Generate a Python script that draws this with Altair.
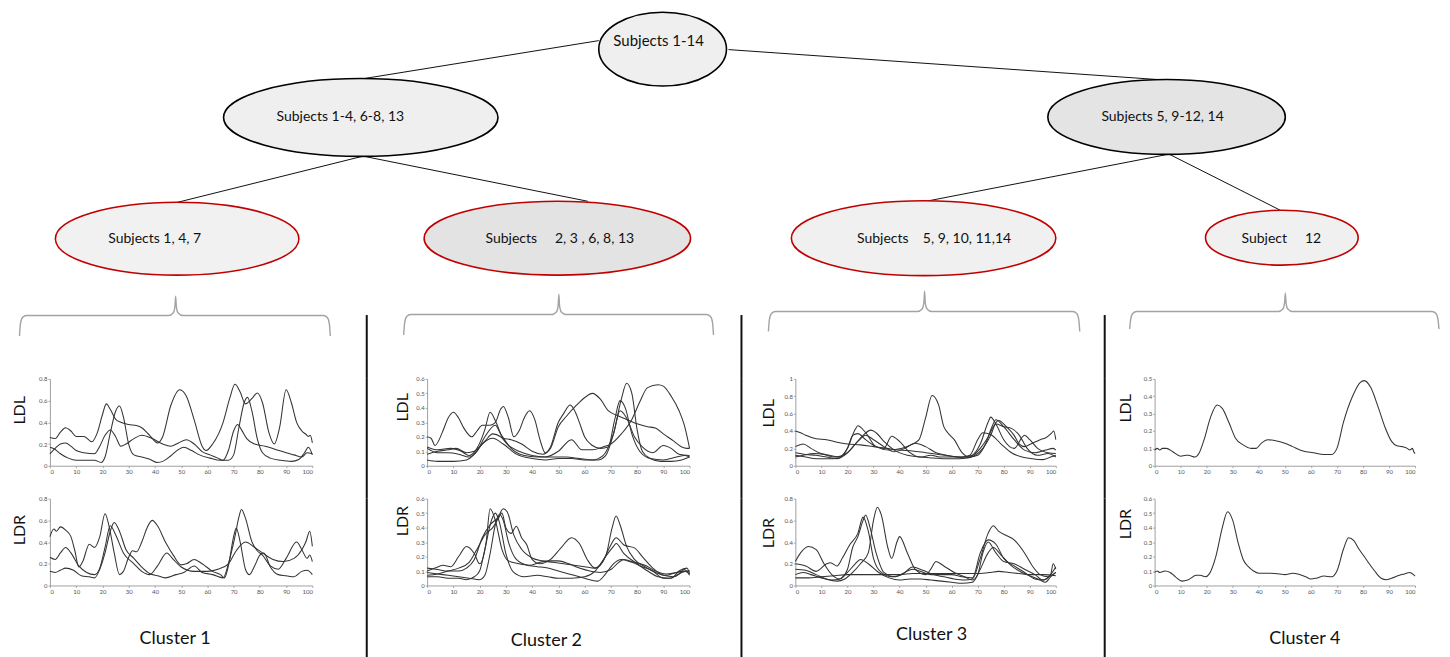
import altair as alt
import pandas as pd

FONT = "Lato"

# ---------------- tree: node texts ----------------
node_labels = [
    "Subjects 1-14",
    "Subjects 1-4, 6-8, 13",
    "Subjects 5, 9-12, 14",
    "Subjects 1, 4, 7",
    "Subjects\u00a0\u00a0\u00a0\u00a0 2, 3 , 6, 8, 13",
    "Subjects\u00a0\u00a0\u00a0 5, 9, 10, 11,14",
    "Subject\u00a0\u00a0\u00a0\u00a0 12",
]
cluster_names = ["Cluster 1", "Cluster 2", "Cluster 3", "Cluster 4"]

# ---------------- curves (x = % of cycle, y = value) ----------------
c1_ldl_a = [(0,.26),(2,.25),(4,.31),(6,.35),(8,.32),(10,.27),(13,.27),(16,.22),(18,.30),(20,.47),(21.5,.57),(23,.52),(25,.43),(27,.40),(30,.38),(33,.37),(35,.35),(38,.28),(41,.21),(43,.27),(46,.55),(49.5,.70),(52,.64),(55,.42),(58,.18),(59.5,.14),(62,.20),(66,.40),(68.5,.62),(70.5,.75),(72.5,.68),(74.5,.57),(77,.62),(79,.67),(81,.58),(83.5,.30),(85.5,.20),(87.5,.35),(90,.70),(92,.58),(94,.40),(96,.32),(97.5,.29),(98.5,.27),(99.2,.28),(100,.21)]
c1_ldl_b = [(0,.11),(2,.16),(4,.20),(6,.21),(8,.18),(10,.14),(13,.12),(17,.11),(19,.18),(21,.28),(23,.33),(25,.27),(27,.18),(29,.20),(32,.25),(35,.28),(39,.25),(43,.20),(46,.18),(49,.21),(52,.24),(55,.20),(58,.13),(61,.10),(64,.07),(66,.05),(68,.14),(70,.32),(71.5,.38),(73,.33),(75,.25),(78,.20),(82,.18),(86,.15),(90,.12),(93,.10),(96,.08),(98,.12),(100,.11)]
c1_ldl_c = [(0,.17),(2,.15),(4,.11),(7,.07),(10,.05),(14,.05),(17,.05),(19.5,.03),(21,.08),(23,.30),(25,.50),(26.5,.55),(28,.45),(30,.20),(32,.10),(35,.08),(38,.06),(41,.03),(43,.04),(46,.09),(49,.15),(51,.17),(54,.14),(57,.10),(61,.07),(65,.05),(68,.05),(70,.10),(72,.35),(74,.58),(75.3,.63),(77,.50),(79,.25),(81,.12),(84,.07),(88,.05),(92,.04),(95,.06),(97,.12),(98.5,.17),(100,.10)]

c1_ldr_a = [(0,.45),(1.5,.52),(2.5,.50),(4,.54),(6,.51),(8,.45),(9.5,.32),(11,.17),(12.5,.22),(15,.38),(17,.35),(19,.45),(21,.66),(22.5,.55),(24.5,.30),(26.5,.10),(28,.13),(30,.26),(31.5,.32),(33,.31),(35,.40),(37,.53),(39,.60),(41,.55),(44,.40),(47,.28),(50,.19),(52,.20),(55,.24),(58,.20),(62,.13),(65,.10),(66.5,.07),(68,.18),(70,.45),(71,.53),(72.5,.40),(74.5,.15),(76,.10),(78,.18),(80,.28),(81.5,.30),(84,.17),(87,.10),(90,.09),(93,.08),(96,.13),(98,.14),(100,.10)]
c1_ldr_b = [(0,.26),(2,.24),(4,.30),(6,.35),(8,.30),(11,.18),(14,.12),(17,.10),(19,.16),(21,.35),(23,.55),(25,.47),(28,.30),(32,.20),(35,.13),(38,.10),(41,.18),(44.5,.30),(47,.24),(50,.17),(55,.13),(60,.13),(64,.15),(68,.20),(71,.32),(74.5,.40),(78,.35),(81,.30),(85,.24),(89,.22),(93,.25),(96,.33),(97.5,.40),(99,.50),(100,.36)]
c1_ldr_c = [(0,.13),(2,.12),(4,.14),(6,.16),(9,.14),(12,.09),(15,.08),(17,.07),(19,.15),(21,.30),(23,.50),(24.5,.58),(26.5,.50),(29,.33),(32,.25),(35,.17),(38,.11),(41,.09),(44,.07),(48,.10),(51,.12),(55,.18),(58,.12),(62,.10),(66,.07),(68,.20),(70.5,.45),(72,.63),(73,.70),(74.5,.62),(77,.40),(79,.32),(81,.28),(84,.18),(87,.15),(90,.25),(94,.40),(96,.33),(98,.25),(99,.28),(100,.22)]

c2_ldl_a = [(0,.20),(1.5,.19),(3,.14),(6,.24),(8,.33),(10,.37),(12,.33),(14,.26),(17,.20),(19,.24),(21,.28),(24,.28),(26,.30),(28,.39),(29,.41),(31,.33),(33,.20),(35,.24),(37,.33),(39,.38),(41,.32),(43,.18),(45,.09),(47,.13),(50,.30),(52,.36),(54.5,.42),(56.5,.37),(58,.30),(60,.20),(63,.14),(66,.12),(69,.13),(71.5,.32),(73.5,.45),(75.5,.40),(78,.22),(81,.10),(85,.05),(90,.04),(95,.06),(98,.07),(100,.06)]
c2_ldl_b = [(0,.13),(4,.11),(9,.12),(13,.10),(16,.07),(19,.12),(22,.25),(24,.37),(26.5,.29),(29,.19),(32,.18),(36,.15),(40,.10),(44,.08),(47,.12),(50,.27),(53,.34),(57,.42),(60,.47),(63,.50),(66,.46),(69,.38),(72,.35),(76,.32),(80,.29),(84,.27),(87,.26),(90,.22),(94,.17),(97,.13),(99,.12),(100,.12)]
c2_ldl_c = [(0,.08),(4,.10),(8,.11),(11,.12),(15,.09),(18,.10),(22,.17),(25,.22),(28,.20),(31,.14),(35,.10),(40,.07),(45,.06),(50,.10),(55,.18),(59,.11),(63,.11),(67,.13),(70,.15),(74,.22),(78,.32),(81,.44),(84,.54),(88,.56),(90,.55),(93,.48),(96,.38),(98,.28),(100,.12)]
c2_ldl_d = [(0,.04),(4,.03),(10,.03),(15,.04),(18,.08),(21,.15),(25,.19),(29,.15),(34,.08),(40,.05),(45,.04),(50,.05),(55,.05),(60,.04),(65,.04),(68,.07),(71,.22),(74,.46),(76,.57),(78,.50),(80,.25),(82,.10),(85,.05),(89,.03),(93,.03),(97,.04),(100,.06)]
c2_ldl_e = [(0,.12),(4,.09),(8,.09),(12,.08),(16,.06),(19,.10),(22,.20),(26,.28),(28,.22),(32,.12),(37,.07),(42,.06),(48,.06),(53,.06),(58,.05),(63,.04),(67,.07),(71,.22),(73.5,.38),(76,.33),(79,.20),(82,.13),(86,.09),(90,.14),(93,.12),(96,.08),(100,.07)]

c2_ldr_a = [(0,.10),(3,.12),(6,.14),(9,.13),(12,.20),(15,.27),(18,.22),(20,.15),(22.5,.30),(24,.53),(26,.45),(28.5,.25),(31,.17),(35,.15),(39,.14),(43,.16),(47,.17),(50,.17),(54,.15),(58,.12),(62,.10),(66,.09),(70,.11),(73,.16),(75,.18),(79,.16),(83,.14),(87,.10),(91,.08),(95,.09),(98,.10),(100,.08)]
c2_ldr_b = [(0,.12),(4,.11),(8,.10),(12,.10),(15,.12),(18,.18),(21,.33),(24,.42),(27,.47),(29,.53),(30.5,.51),(33,.35),(36,.25),(40,.19),(44,.17),(48,.16),(52,.15),(56,.14),(60,.13),(64,.12),(68,.20),(70.5,.40),(72,.48),(73.5,.42),(76,.27),(79,.18),(83,.13),(87,.09),(91,.07),(95,.09),(100,.10)]
c2_ldr_c = [(0,.07),(4,.08),(8,.10),(12,.12),(16,.16),(19,.25),(22,.35),(25,.40),(27,.46),(28.5,.50),(30,.40),(32,.36),(34,.41),(36,.33),(38,.28),(40,.18),(43,.15),(47,.18),(51,.26),(55,.33),(58,.29),(61,.18),(64,.12),(67,.17),(70,.28),(72,.33),(75,.28),(79,.26),(82,.20),(86,.12),(90,.07),(94,.06),(97,.09),(100,.10)]
c2_ldr_d = [(0,.06),(4,.06),(8,.05),(12,.05),(15,.04),(18,.06),(20,.10),(22,.25),(24.5,.45),(26,.50),(27.5,.44),(30,.22),(33,.09),(37,.06),(42,.07),(46,.06),(50,.05),(55,.05),(60,.06),(64,.10),(68,.20),(71,.27),(72,.29),(75,.22),(80,.15),(84,.10),(88,.06),(92,.05),(96,.08),(98,.11),(100,.07)]
c2_ldr_e = [(0,.09),(4,.08),(8,.07),(12,.06),(16,.05),(20,.04),(22,.07),(24,.22),(26,.42),(27.5,.49),(29,.45),(31,.30),(34,.18),(38,.14),(42,.13),(46,.12),(50,.10),(54,.08),(58,.06),(62,.04),(65,.03),(68,.08),(71,.15),(74,.18),(78,.16),(82,.13),(86,.10),(90,.05),(93,.05),(96,.10),(99,.12),(100,.08)]

c3_ldl_a = [(0,.40),(2,.38),(4,.35),(8,.31),(12,.30),(16,.27),(20,.25),(25,.24),(30,.22),(35,.20),(40,.18),(45,.17),(50,.15),(55,.13),(60,.11),(64,.10),(68,.12),(71,.20),(74,.33),(76,.45),(78,.52),(81,.45),(84,.35),(86,.25),(88,.22),(91,.26),(94,.30),(96,.32),(98.5,.38),(99.2,.40),(100,.30)]
c3_ldl_b = [(0,.22),(3,.25),(6,.20),(9,.15),(13,.12),(17,.10),(20,.20),(22,.35),(24,.37),(27,.30),(31,.22),(36,.18),(41,.20),(45,.25),(47.5,.30),(50,.55),(52.5,.81),(55,.70),(57,.45),(58.5,.38),(61,.30),(64,.15),(67,.10),(70,.12),(73,.25),(75.5,.45),(77,.53),(80,.45),(84,.30),(88,.18),(92,.15),(96,.18),(99,.20),(100,.18)]
c3_ldl_c = [(0,.15),(4,.13),(8,.12),(12,.10),(16,.08),(20,.20),(23,.42),(24,.46),(27,.38),(31,.22),(34,.20),(37,.34),(40,.28),(44,.15),(48,.10),(52,.12),(56,.10),(60,.10),(64,.10),(67,.12),(70,.30),(72,.38),(75,.36),(79,.25),(83,.15),(87,.10),(91,.08),(95,.07),(98,.10),(100,.12)]
c3_ldl_d = [(0,.12),(4,.10),(8,.08),(12,.08),(17,.09),(20,.15),(23,.25),(26,.35),(29,.41),(31,.38),(34,.28),(38,.18),(43,.12),(48,.10),(53,.09),(58,.08),(63,.08),(67,.10),(71,.25),(74,.50),(75,.56),(77,.48),(80,.30),(84,.20),(88,.35),(90,.30),(93,.20),(97,.15),(100,.14)]
c3_ldl_e = [(0,.10),(3,.12),(7,.14),(11,.13),(15,.10),(20,.15),(24,.28),(27,.35),(30,.30),(34,.22),(38,.16),(42,.20),(46,.26),(50,.22),(54,.15),(58,.12),(62,.10),(66,.09),(69,.12),(72,.20),(75,.35),(77,.48),(80,.45),(83,.43),(86,.35),(89,.20),(93,.12),(97,.14),(100,.10)]

c3_ldr_a = [(0,.22),(2,.30),(5,.36),(8,.33),(11,.20),(14,.10),(17,.06),(20,.15),(22,.35),(24,.45),(26,.60),(27,.65),(28.5,.55),(31,.30),(34,.12),(38,.08),(42,.12),(45,.15),(48,.13),(52,.10),(56,.10),(60,.10),(64,.08),(68,.07),(71,.30),(74,.42),(77,.38),(80,.25),(84,.18),(88,.12),(92,.06),(95,.05),(98,.10),(99,.20),(100,.15)]
c3_ldr_b = [(0,.20),(4,.18),(8,.13),(12,.20),(13.5,.21),(16,.18),(18,.25),(21,.38),(24,.48),(26,.63),(28,.50),(30,.25),(33,.12),(37,.08),(41,.10),(45,.17),(49,.14),(53,.10),(57,.08),(61,.06),(65,.05),(68,.06),(71,.25),(74,.48),(76,.55),(78,.50),(81,.46),(84,.42),(88,.30),(91,.18),(94,.10),(97,.08),(100,.12)]
c3_ldr_c = [(0,.15),(4,.14),(8,.10),(12,.06),(16,.04),(19,.06),(22,.12),(25,.20),(28,.30),(30,.60),(31.5,.72),(33,.65),(35.5,.35),(37,.25),(39,.40),(40,.45),(43,.30),(46,.15),(50,.10),(52,.15),(54,.22),(57,.18),(61,.12),(65,.08),(68,.05),(70,.10),(72,.30),(74,.40),(77,.30),(80,.22),(84,.20),(88,.15),(92,.10),(95,.05),(98,.10),(100,.17)]
c3_ldr_d = [(0,.10),(3,.12),(6,.10),(10,.07),(14,.05),(17,.06),(20,.12),(23,.20),(25,.24),(28,.20),(32,.12),(36,.07),(40,.05),(44,.06),(48,.06),(52,.05),(56,.04),(60,.03),(64,.02),(68,.03),(71,.15),(74,.30),(76,.35),(79,.28),(83,.18),(87,.12),(91,.08),(94,.05),(96,.03),(98,.08),(100,.12)]
c3_ldr_e = [(0,.07),(5,.07),(10,.08),(15,.09),(20,.10),(25,.10),(30,.10),(35,.10),(40,.10),(45,.11),(50,.11),(55,.11),(60,.11),(65,.11),(70,.11),(75,.12),(78,.13),(82,.12),(86,.11),(90,.10),(95,.10),(100,.09)]

c4_ldl_a = [(0,.09),(1,.10),(2,.09),(3,.10),(4.5,.10),(7,.08),(10,.055),(12,.06),(13,.06),(15.5,.05),(17,.07),(19,.15),(21.5,.28),(24,.35),(26,.33),(28.5,.25),(31,.16),(34,.12),(37,.10),(39,.10),(41,.13),(43.5,.15),(46,.145),(50,.13),(53,.11),(57,.085),(61,.075),(65,.065),(68,.065),(70,.10),(72.5,.25),(76,.40),(79,.48),(80.5,.49),(83,.45),(86,.33),(88.5,.22),(91,.14),(93,.115),(95,.11),(97,.10),(98,.09),(99,.10),(99.5,.08),(100,.07)]
c4_ldr_a = [(0,.09),(1,.10),(2,.09),(4,.10),(6,.09),(8,.06),(10.5,.03),(13,.04),(16,.07),(17.5,.07),(19.5,.06),(21,.08),(23.5,.20),(26,.40),(28,.51),(30,.45),(32,.30),(34,.18),(36,.13),(38,.10),(40,.085),(44,.085),(48,.08),(50,.075),(53,.085),(55,.08),(58,.06),(60,.045),(62,.05),(65,.065),(68,.06),(70,.10),(72.5,.25),(74.5,.33),(76.5,.31),(78.5,.25),(80.5,.20),(82,.16),(84.5,.10),(87,.05),(89,.04),(91,.05),(94,.07),(96,.08),(98,.09),(99,.08),(100,.065)]

ldl_series = [[c1_ldl_a, c1_ldl_b, c1_ldl_c],
              [c2_ldl_a, c2_ldl_b, c2_ldl_c, c2_ldl_d, c2_ldl_e],
              [c3_ldl_a, c3_ldl_b, c3_ldl_c, c3_ldl_d, c3_ldl_e],
              [c4_ldl_a]]
ldr_series = [[c1_ldr_a, c1_ldr_b, c1_ldr_c],
              [c2_ldr_a, c2_ldr_b, c2_ldr_c, c2_ldr_d, c2_ldr_e],
              [c3_ldr_a, c3_ldr_b, c3_ldr_c, c3_ldr_d, c3_ldr_e],
              [c4_ldr_a]]
ldl_max = [0.8, 0.6, 1.0, 0.5]
ldl_step = [0.2, 0.1, 0.2, 0.1]
ldr_max = [0.8, 0.6, 0.8, 0.6]
ldr_step = [0.2, 0.1, 0.2, 0.1]

# ---------------- layout (screen pixel coordinates) ----------------
node_cx = [664, 361.5, 1169, 177.5, 558.5, 925.5, 1284.5]
node_cy = [45.5, 114, 113.5, 235.5, 235, 235, 234.5]
node_rx = [64, 137.5, 119, 122, 133.5, 132.5, 76.5]
node_ry = [37, 39, 37.5, 36.5, 37, 37.5, 27.5]
node_fill = ["#efefef", "#efefef", "#e4e4e4", "#f1f1f1", "#e3e3e3", "#f0f0f0", "#f0f0f0"]
node_stroke = ["#000000", "#000000", "#000000", "#c00000", "#c00000", "#c00000", "#c00000"]
node_font = [15, 14, 14, 14, 14, 14, 14]
text_x = [660, 341, 1165, 155, 561, 936, 1284]
text_y = [37, 114, 114, 236, 236, 236, 236]

edge_x1 = [600, 730, 363, 365, 1170, 1172]
edge_y1 = [37, 46, 153, 153, 151, 151]
edge_x2 = [365, 1160, 178, 589, 928, 1283]
edge_y2 = [75, 76, 199, 198, 198, 207]

br_x0 = [19.5, 404.5, 770, 1132]
br_x1 = [331, 715, 1082, 1442]
br_xc = [176, 560, 926.5, 1288]
br_yl = [312.5, 311.5, 308.5, 308.5]
br_ye = [333, 332, 328.5, 326]
br_yp = [293, 291, 288, 290]

sep_x = [367.5, 743, 1107]
sep_top = 312
TOP_X0, TOP_X1, TOP_Y0, TOP_Y1 = 8, 1442, 8, 376

panel_left = [50, 428, 797, 1157]
panel_w = [263, 263, 261, 261]
panel_h = 87
row_gap = 33
bottom_y = 657
ldl_title_x = [-30, -25, -27, -29]
ldl_title_y = [31, 28, 34, 29]
ldr_title_y = [31, 22, 34, 25]
cl_x = [175, 547, 933, 1307]
cl_y = [636, 638, 632, 636]

# ---------------- top (tree) ----------------
XS = alt.Scale(domain=[TOP_X0, TOP_X1], nice=False, zero=False)
YS = alt.Scale(domain=[TOP_Y0, TOP_Y1], nice=False, zero=False, reverse=True)

nodes_df = pd.DataFrame({
    "cx": node_cx, "cy": node_cy,
    "size": [(2 * r) ** 2 for r in node_rx],
    "path": ["M -1 0 A 1 {a:.4f} 0 1 0 1 0 A 1 {a:.4f} 0 1 0 -1 0 Z".format(a=ry / rx)
             for rx, ry in zip(node_rx, node_ry)],
    "fill": node_fill, "stroke": node_stroke,
})
text_df = pd.DataFrame({"x": text_x, "y": text_y, "label": node_labels, "fs": node_font})
edges_df = pd.DataFrame({"x1": edge_x1, "y1": edge_y1, "x2": edge_x2, "y2": edge_y2})

br_rows = []
for b in range(4):
    x0, x1, xc, yl, ye, yp = br_x0[b], br_x1[b], br_xc[b], br_yl[b], br_ye[b], br_yp[b]
    pts = [(x0, ye), (x0 + 1, yl + 8), (x0 + 3, yl + 2), (x0 + 7, yl),
           (xc - 7, yl), (xc - 2.5, yl - 2.5), (xc - 0.7, yl - 9), (xc, yp),
           (xc + 0.7, yl - 9), (xc + 2.5, yl - 2.5), (xc + 7, yl),
           (x1 - 7, yl), (x1 - 3, yl + 2), (x1 - 1, yl + 8), (x1, ye)]
    for i, (px, py) in enumerate(pts):
        br_rows.append({"b": b, "i": i, "x": px, "y": py})
br_df = pd.DataFrame(br_rows)
sep_df = pd.DataFrame({"x": sep_x, "y1": [sep_top] * 3, "y2": [TOP_Y1] * 3})

edges = alt.Chart(edges_df).mark_rule(color="#111111", strokeWidth=1).encode(
    x=alt.X("x1:Q", scale=XS, axis=None), y=alt.Y("y1:Q", scale=YS, axis=None),
    x2="x2:Q", y2="y2:Q")
ellipses = alt.Chart(nodes_df).mark_point(filled=True, opacity=1, strokeWidth=1.6).encode(
    x=alt.X("cx:Q", scale=XS, axis=None), y=alt.Y("cy:Q", scale=YS, axis=None),
    shape=alt.Shape("path:N", scale=None, legend=None),
    size=alt.Size("size:Q", scale=None, legend=None),
    fill=alt.Fill("fill:N", scale=None, legend=None),
    stroke=alt.Stroke("stroke:N", scale=None, legend=None))
texts = alt.Chart(text_df).mark_text(font=FONT, color="#111111").encode(
    x=alt.X("x:Q", scale=XS, axis=None), y=alt.Y("y:Q", scale=YS, axis=None), text="label:N",
    size=alt.Size("fs:Q", scale=None, legend=None))
brackets = alt.Chart(br_df).mark_line(color="#a3a3a3", strokeWidth=1.4, interpolate="monotone").encode(
    x=alt.X("x:Q", scale=XS, axis=None), y=alt.Y("y:Q", scale=YS, axis=None),
    detail="b:N", order="i:Q")
seps_top = alt.Chart(sep_df).mark_rule(color="#111111", strokeWidth=2).encode(
    x=alt.X("x:Q", scale=XS, axis=None), y=alt.Y("y1:Q", scale=YS, axis=None), y2="y2:Q")

top = alt.layer(edges, ellipses, texts, brackets, seps_top).properties(
    width=TOP_X1 - TOP_X0, height=TOP_Y1 - TOP_Y0)

# ---------------- bottom panels ----------------
def series_df(series_list):
    rows = []
    for k, s in enumerate(series_list):
        for i, (x, y) in enumerate(s):
            rows.append({"s": k, "i": i, "x": x, "y": y})
    return pd.DataFrame(rows)


def panel(series_list, ymax, ystep, name, tx, ty, width, cluster=None, cx=None, cy=None):
    df = series_df(series_list)
    nticks = int(round(ymax / ystep))
    yvals = [round(k * ystep, 2) for k in range(nticks + 1)]
    common = dict(labelFontSize=6, labelColor="#555555", labelFont=FONT, tickSize=2,
                  tickColor="#888888", tickWidth=0.7, domainColor="#888888",
                  domainWidth=0.8, labelPadding=1, grid=False)
    xkw = dict(common, values=list(range(0, 101, 10)))
    if cluster is not None:
        xkw.update(titleX=cx, titleY=cy, titleBaseline="middle", titleAlign="center",
                   titleFontSize=18, titleFontWeight="normal", titleColor="#111111",
                   titleFont=FONT)
        xenc = alt.X("x:Q", scale=alt.Scale(domain=[0, 100], nice=False),
                     axis=alt.Axis(**xkw), title=cluster)
    else:
        xenc = alt.X("x:Q", scale=alt.Scale(domain=[0, 100], nice=False),
                     axis=alt.Axis(**xkw), title=None)
    ykw = dict(common, values=yvals, format=".1~f", titleX=tx, titleY=ty,
               titleAngle=270, titleBaseline="middle", titleAlign="center",
               titleFontSize=16, titleFontWeight="normal", titleColor="#111111",
               titleFont=FONT)
    yenc = alt.Y("y:Q", scale=alt.Scale(domain=[0, ymax], nice=False),
                 axis=alt.Axis(**ykw), title=name)
    return alt.Chart(df).mark_line(color="#333333", strokeWidth=1.05,
                                   interpolate="monotone").encode(
        x=xenc, y=yenc, detail="s:N", order="i:Q").properties(width=width, height=panel_h)


def separator(left, width, height, xpos, visible=True):
    df = pd.DataFrame({"x": [xpos], "y1": [0], "y2": [1]})
    return alt.Chart(df).mark_rule(color="#111111", strokeWidth=2,
                                   opacity=1 if visible else 0).encode(
        x=alt.X("x:Q", scale=alt.Scale(domain=[left, left + width], nice=False, zero=False), axis=None),
        y=alt.Y("y1:Q", scale=alt.Scale(domain=[0, 1], nice=False), axis=None),
        y2="y2:Q").properties(width=width, height=height)


row1_h = panel_h + row_gap
row2_h = bottom_y - (TOP_Y1 + row1_h)
cells_row1, cells_row2 = [], []
prev_right = TOP_X0
for c in range(4):
    gap_w = panel_left[c] - prev_right
    if c == 0:
        cells_row1.append(separator(prev_right, gap_w, row1_h, prev_right, visible=False))
        cells_row2.append(separator(prev_right, gap_w, row2_h, prev_right, visible=False))
    else:
        cells_row1.append(separator(prev_right, gap_w, row1_h, sep_x[c - 1]))
        cells_row2.append(separator(prev_right, gap_w, row2_h, sep_x[c - 1]))
    cells_row1.append(panel(ldl_series[c], ldl_max[c], ldl_step[c], "LDL",
                            ldl_title_x[c], ldl_title_y[c], panel_w[c]))
    cells_row2.append(panel(ldr_series[c], ldr_max[c], ldr_step[c], "LDR",
                            ldl_title_x[c], ldr_title_y[c], panel_w[c],
                            cluster=cluster_names[c],
                            cx=cl_x[c] - panel_left[c],
                            cy=cl_y[c] - (TOP_Y1 + row1_h + panel_h)))
    prev_right = panel_left[c] + panel_w[c]

grid = alt.concat(*cells_row1, *cells_row2, columns=8, spacing=0,
                  bounds="flush", align="each")

chart = alt.vconcat(top, grid, spacing=0, bounds="flush").properties(
    padding=0).configure_view(stroke=None)

chart.save("out.html", embed_options={"renderer": "svg", "actions": False})
